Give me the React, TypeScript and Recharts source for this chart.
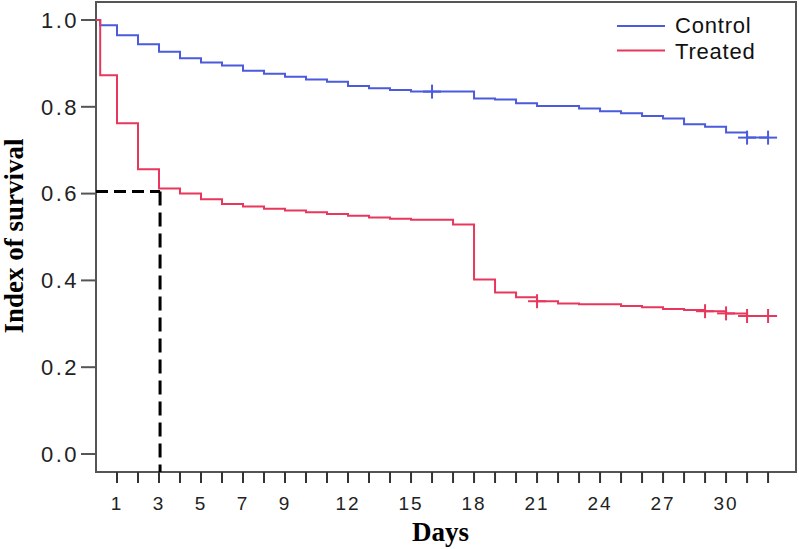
import React from "react"
import { ComposedChart, Line, Scatter, XAxis, YAxis, ReferenceLine, ReferenceArea, Legend, Label } from "recharts"

// Kaplan-Meier steps (day where each step starts)
const controlDays = [0, 0.2, 1, 2, 3, 4, 5, 6, 7, 8, 9, 10, 11, 12, 13, 14, 15, 18, 19, 20, 21, 23, 24, 25, 26, 27, 28, 29, 30, 31, 32]
const controlSurvival = [1.0, 0.988, 0.965, 0.944, 0.927, 0.912, 0.902, 0.895, 0.883, 0.876, 0.869, 0.863, 0.858, 0.848, 0.843, 0.839, 0.835, 0.819, 0.817, 0.808, 0.802, 0.796, 0.79, 0.785, 0.779, 0.773, 0.76, 0.754, 0.741, 0.729, 0.729]
const controlCensorDays = [16, 31, 32]
const controlCensorSurvival = [0.835, 0.729, 0.729]

const treatedDays = [0, 0.2, 1, 2, 3, 4, 5, 6, 7, 8, 9, 10, 11, 12, 13, 14, 15, 17, 18, 19, 20, 21, 22, 23, 25, 26, 27, 28, 29, 30, 31, 32]
const treatedSurvival = [1.0, 0.873, 0.762, 0.656, 0.612, 0.6, 0.587, 0.576, 0.57, 0.565, 0.561, 0.557, 0.553, 0.549, 0.545, 0.542, 0.54, 0.529, 0.402, 0.372, 0.361, 0.352, 0.347, 0.345, 0.341, 0.338, 0.334, 0.332, 0.329, 0.324, 0.318, 0.318]
const treatedCensorDays = [21, 29, 30, 31, 32]
const treatedCensorSurvival = [0.352, 0.329, 0.324, 0.318, 0.318]

// dashed marker at day 3
const markerDay = 3.05
const markerSurvival = 0.605

const xTicks = [1, 2, 3, 4, 5, 6, 7, 8, 9, 10, 11, 12, 13, 14, 15, 16, 17, 18, 19, 20, 21, 22, 23, 24, 25, 26, 27, 28, 29, 30, 31, 32]
const xTickLabels = [1, 3, 5, 7, 9, 12, 15, 18, 21, 24, 27, 30]
const yTicks = [0, 0.2, 0.4, 0.6, 0.8, 1.0]

const X_MAX = 33.33
const Y_MIN = -0.0415
const Y_MAX = 1.0415

const BLUE = "#4b5bdc"
const RED = "#e8375c"
const FRAME = "#555"

const zip = (t: number[], s: number[]) => t.map((d, i) => ({ t: d, s: s[i] }))

const controlData = zip(controlDays, controlSurvival)
const treatedData = zip(treatedDays, treatedSurvival)
const controlCensor = zip(controlCensorDays, controlCensorSurvival)
const treatedCensor = zip(treatedCensorDays, treatedCensorSurvival)

const censorMark = (color: string) => (props: any) => {
  const { cx, cy } = props
  return (
    <g>
      <line x1={cx} y1={cy - 7} x2={cx} y2={cy + 7} stroke={color} strokeWidth={2} />
      <line x1={cx - 9} y1={cy} x2={cx + 9} y2={cy} stroke={color} strokeWidth={2} />
    </g>
  )
}

const XTick = (props: any) => {
  const { x, y, payload } = props
  if (!xTickLabels.includes(payload.value)) return null
  return (
    <text x={x} y={y + 25} textAnchor="middle" fill="#222" fontSize={19} fontFamily="Liberation Sans" letterSpacing={2}>
      {payload.value}
    </text>
  )
}

const LegendBox = ({ payload }: any) => {
  const items = (payload || []).filter((p: any) => p.type !== "none")
  return (
    <svg width={190} height={70}>
      {items.map((p: any, i: number) => (
        <g key={p.value}>
          <line x1={17} x2={65} y1={26 + i * 24.5} y2={26 + i * 24.5} stroke={p.color} strokeWidth={2} />
          <text x={75} y={33 + i * 25.5} fontSize={22} fontFamily="Liberation Sans" letterSpacing={0.8} fill="#111">
            {p.value}
          </text>
        </g>
      ))}
    </svg>
  )
}

export default function App() {
  return (
    <div style={{ position: "absolute", left: 0, top: 0, width: 799, height: 549, background: "#fff" }}>
      <ComposedChart width={799} height={549} margin={{ top: 2, right: 3, bottom: 0, left: 0 }}>
        <XAxis
          dataKey="t"
          type="number"
          domain={[0, X_MAX]}
          allowDataOverflow
          ticks={xTicks}
          interval={0}
          tick={<XTick />}
          tickSize={11}
          tickLine={{ stroke: "#333", strokeWidth: 2 }}
          axisLine={false}
          height={77}
        >
          <Label
            content={() => (
              <text x={412} y={541} fontSize={27} fontWeight="bold" fontFamily="Liberation Serif" fill="#000">
                Days
              </text>
            )}
          />
        </XAxis>
        <YAxis
          type="number"
          domain={[Y_MIN, Y_MAX]}
          allowDataOverflow
          ticks={yTicks}
          interval={0}
          width={96}
          tickSize={15}
          tickMargin={2}
          tickFormatter={(v: number) => v.toFixed(1)}
          tick={{ fill: "#222", fontSize: 22, fontFamily: "Liberation Sans", letterSpacing: 2.5 }}
          tickLine={{ stroke: "#555", strokeWidth: 2 }}
          axisLine={false}
        >
          <Label
            content={() => (
              <text
                x={23}
                y={236}
                transform="rotate(-90, 23, 236)"
                textAnchor="middle"
                fontSize={27}
                fontWeight="bold"
                fontFamily="Liberation Serif"
                fill="#000"
              >
                Index of survival
              </text>
            )}
          />
        </YAxis>
        <ReferenceArea x1={0} x2={X_MAX} y1={Y_MIN} y2={Y_MAX} fill="none" stroke={FRAME} strokeWidth={2} ifOverflow="visible" />
        <ReferenceLine
          segment={[{ x: 0, y: markerSurvival }, { x: markerDay, y: markerSurvival }]}
          stroke="#000"
          strokeWidth={3}
          strokeDasharray="12 6"
        />
        <ReferenceLine
          segment={[{ x: markerDay, y: markerSurvival }, { x: markerDay, y: Y_MIN }]}
          stroke="#000"
          strokeWidth={3}
          strokeDasharray="14 7"
        />
        <Line data={controlData} dataKey="s" name="Control" type="stepAfter" stroke={BLUE} strokeWidth={2} dot={false} isAnimationActive={false} />
        <Line data={treatedData} dataKey="s" name="Treated" type="stepAfter" stroke={RED} strokeWidth={2} dot={false} isAnimationActive={false} />
        <Scatter data={controlCensor} dataKey="s" legendType="none" shape={censorMark(BLUE)} isAnimationActive={false} />
        <Scatter data={treatedCensor} dataKey="s" legendType="none" shape={censorMark(RED)} isAnimationActive={false} />
        <Legend
          layout="vertical"
          align="center"
          verticalAlign="middle"
          content={<LegendBox />}
          wrapperStyle={{ left: 600, top: 0, width: 190, height: 70 }}
        />
      </ComposedChart>
    </div>
  )
}
